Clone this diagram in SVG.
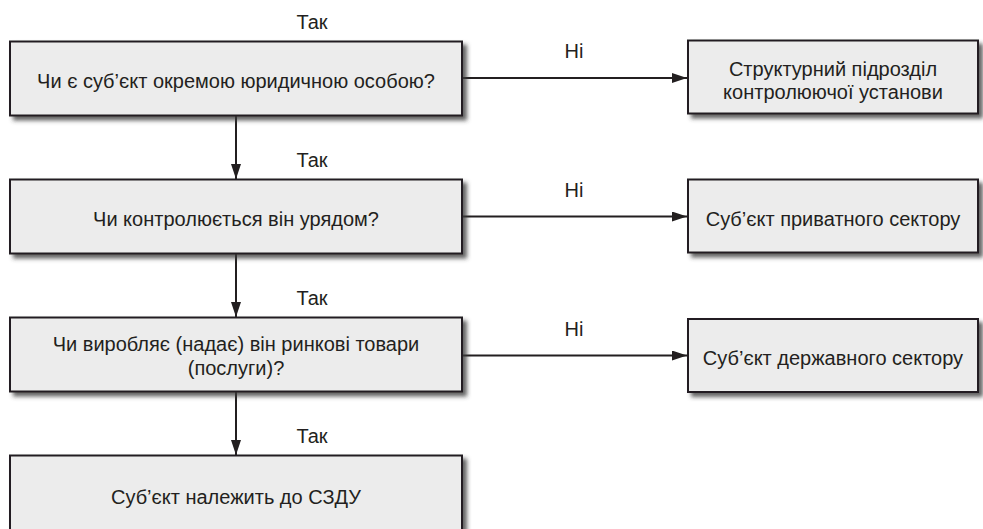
<svg xmlns="http://www.w3.org/2000/svg" width="983" height="529" viewBox="0 0 983 529">
<defs>
<style>
.box{fill:#ececec;stroke:#231f20;stroke-width:2;filter:url(#sh)}
.t{font-family:"Liberation Sans",Arial,sans-serif;font-size:20px;fill:#231f20;text-anchor:middle}
.c{stroke:#231f20;stroke-width:2;fill:none;marker-end:url(#ah)}
</style>
<filter id="sh" x="-5%" y="-10%" width="115%" height="130%">
<feDropShadow dx="4" dy="4" stdDeviation="2" flood-color="#3a3a3a" flood-opacity="0.8"/>
</filter>
<marker id="ah" markerUnits="userSpaceOnUse" markerWidth="15" markerHeight="10" refX="15" refY="5" orient="auto">
<path d="M0,0 L15,5 L0,10 z" fill="#231f20"/>
</marker>
</defs>
<rect width="983" height="529" fill="#ffffff"/>
<g id="connectors">
<line class="c" x1="236" y1="115.5" x2="236" y2="179"/>
<line class="c" x1="236" y1="253.5" x2="236" y2="317"/>
<line class="c" x1="236" y1="391.5" x2="236" y2="455"/>
<line class="c" x1="462" y1="78" x2="687" y2="78"/>
<line class="c" x1="462" y1="216.5" x2="687" y2="216.5"/>
<line class="c" x1="462" y1="355.5" x2="687" y2="355.5"/>
<text class="t" x="312" y="29">Так</text>
<text class="t" x="312" y="167">Так</text>
<text class="t" x="312" y="305">Так</text>
<text class="t" x="312" y="443">Так</text>
<text class="t" x="574" y="58">Ні</text>
<text class="t" x="574" y="197">Ні</text>
<text class="t" x="574" y="336">Ні</text>
</g>
<g id="q1">
<rect class="box" x="10" y="41.5" width="452" height="74"/>
<text class="t" x="236" y="88">Чи є суб’єкт окремою юридичною особою?</text>
</g>
<g id="q2">
<rect class="box" x="10" y="179.5" width="452" height="74"/>
<text class="t" x="236" y="226">Чи контролюється він урядом?</text>
</g>
<g id="q3">
<rect class="box" x="10" y="317.5" width="452" height="74"/>
<text class="t" x="236" y="351">Чи виробляє (надає) він ринкові товари<tspan x="236" dy="24">(послуги)?</tspan></text>
</g>
<g id="result-sdu">
<rect class="box" x="10" y="455.5" width="452" height="80"/>
<text class="t" x="236" y="504">Суб’єкт належить до СЗДУ</text>
</g>
<g id="r1">
<rect class="box" x="688" y="40.5" width="290" height="73"/>
<text class="t" x="833" y="75.5">Структурний підрозділ<tspan x="833" dy="23">контролюючої установи</tspan></text>
</g>
<g id="r2">
<rect class="box" x="688" y="179.5" width="290" height="73"/>
<text class="t" x="833" y="226">Суб’єкт приватного сектору</text>
</g>
<g id="r3">
<rect class="box" x="688" y="319" width="290" height="73"/>
<text class="t" x="833" y="365">Суб’єкт державного сектору</text>
</g>
</svg>
